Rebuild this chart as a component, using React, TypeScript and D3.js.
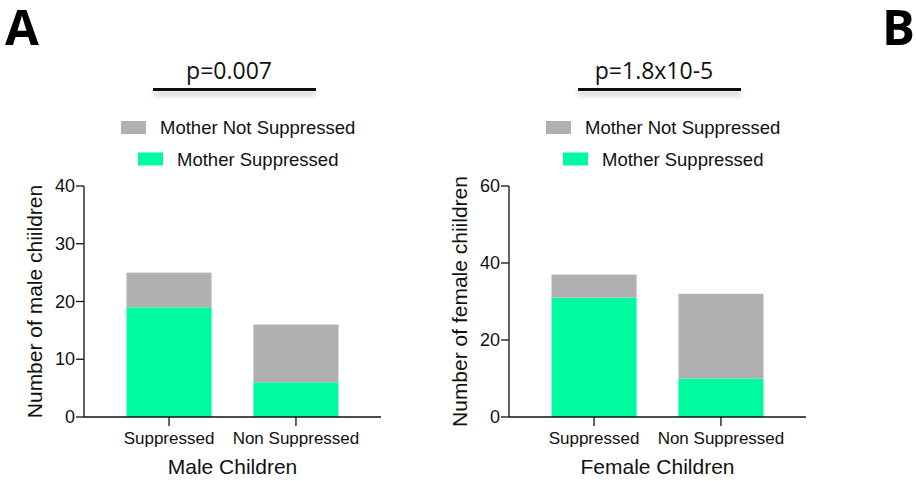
import React from 'react';
import * as d3 from 'd3';

const categories = ['Suppressed', 'Non Suppressed'];
const maleSuppressed = [19, 6];
const maleNotSuppressed = [6, 10];
const femaleSuppressed = [31, 10];
const femaleNotSuppressed = [6, 22];
const maleTicks = [0, 10, 20, 30, 40];
const femaleTicks = [0, 20, 40, 60];

const GREEN = '#00fa9f';
const GRAY = '#b0b0b2';
const SANS = '"Liberation Sans", Arial, sans-serif';
const LABEL_FONT = '"Open Sans", "Noto Sans", sans-serif';

interface PanelProps {
  offsetX: number;
  suppressed: number[];
  notSuppressed: number[];
  ticks: number[];
  pText: string;
  yTitle: string;
  xTitle: string;
}

const Panel: React.FC<PanelProps> = ({ offsetX, suppressed, notSuppressed, ticks, pText, yTitle, xTitle }) => {
  const axisX0 = 84;
  const axisX1 = 381;
  const yTop = 186;
  const yBottom = 417;

  const yScale = d3.scaleLinear()
    .domain([0, d3.max(ticks)!])
    .range([yBottom, yTop]);

  const xScale = d3.scaleBand<string>()
    .domain(categories)
    .range([axisX0, axisX1])
    .paddingInner(0.33)
    .paddingOuter(0.335);

  const rows = categories.map((c, i) => ({ cat: c, sup: suppressed[i], not: notSuppressed[i] }));
  const stacked = d3.stack<any>().keys(['sup', 'not'])(rows);
  const colors: Record<string, string> = { sup: GREEN, not: GRAY };

  return (
    <g transform={`translate(${offsetX},0)`}>
      {/* p value + bar */}
      <text x={229} y={79} textAnchor="middle" fontFamily={LABEL_FONT} fontSize={23} fill="#111">{pText}</text>
      <rect x={153} y={88} width={163} height={3} fill="#111" filter="url(#lineShadow)" />

      {/* legend */}
      <rect x={121} y={121} width={25} height={13} fill={GRAY} />
      <text x={160} y={133.5} fontFamily={SANS} fontSize={18.5} fill="#111">Mother Not Suppressed</text>
      <rect x={138} y={152.5} width={25} height={13} fill={GREEN} />
      <text x={177} y={165.5} fontFamily={SANS} fontSize={18.5} fill="#111">Mother Suppressed</text>

      {/* bars */}
      {stacked.map(layer => (
        <g key={layer.key} fill={colors[layer.key]}>
          {layer.map((d, i) => (
            <rect
              key={i}
              x={xScale(d.data.cat)}
              width={xScale.bandwidth()}
              y={yScale(d[1])}
              height={yScale(d[0]) - yScale(d[1])}
            />
          ))}
        </g>
      ))}

      {/* y axis */}
      <line x1={axisX0} x2={axisX0} y1={yTop} y2={yBottom} stroke="#111" strokeWidth={1.3} />
      {ticks.map(t => (
        <g key={t} transform={`translate(0,${yScale(t)})`}>
          <line x1={axisX0 - 8} x2={axisX0} stroke="#111" strokeWidth={1.3} />
          <text x={axisX0 - 9} textAnchor="end" dominantBaseline="central" fontFamily={SANS} fontSize={18} fill="#111">{t}</text>
        </g>
      ))}

      {/* x axis */}
      <line x1={axisX0} x2={axisX1} y1={yBottom} y2={yBottom} stroke="#111" strokeWidth={1.3} />
      {categories.map(c => {
        const cx = xScale(c)! + xScale.bandwidth() / 2;
        return (
          <g key={c}>
            <line x1={cx} x2={cx} y1={yBottom} y2={yBottom + 9} stroke="#111" strokeWidth={1.3} />
            <text x={cx} y={yBottom + 27} textAnchor="middle" fontFamily={SANS} fontSize={17} fill="#111">{c}</text>
          </g>
        );
      })}

      {/* titles */}
      <text
        transform={`translate(34,${(yTop + yBottom) / 2}) rotate(-90)`}
        textAnchor="middle"
        dominantBaseline="central"
        fontFamily={SANS}
        fontSize={21}
        fill="#111"
      >
        {yTitle}
      </text>
      <text x={(axisX0 + axisX1) / 2} y={474} textAnchor="middle" fontFamily={SANS} fontSize={21} fill="#111">{xTitle}</text>
    </g>
  );
};

export default function App() {
  return (
    <svg width={916} height={481} style={{ position: 'absolute', left: 0, top: 0, background: '#fff' }}>
      <defs>
        <filter id="lineShadow" filterUnits="userSpaceOnUse" x={0} y={70} width={916} height={40}>
          <feDropShadow dx={0} dy={4} stdDeviation={2.5} floodColor="#000" floodOpacity={0.25} />
        </filter>
      </defs>
      <rect width={916} height={481} fill="#fff" />
      <text x={5} y={45} fontFamily={LABEL_FONT} fontWeight="bold" fontSize={49} fill="#000">A</text>
      <text x={882} y={45} fontFamily={LABEL_FONT} fontWeight="bold" fontSize={49} fill="#000">B</text>

      <Panel
        offsetX={0}
        suppressed={maleSuppressed}
        notSuppressed={maleNotSuppressed}
        ticks={maleTicks}
        pText="p=0.007"
        yTitle="Number of male chiildren"
        xTitle="Male Children"
      />
      <Panel
        offsetX={425}
        suppressed={femaleSuppressed}
        notSuppressed={femaleNotSuppressed}
        ticks={femaleTicks}
        pText="p=1.8x10-5"
        yTitle="Number of female chiildren"
        xTitle="Female Children"
      />
    </svg>
  );
}
